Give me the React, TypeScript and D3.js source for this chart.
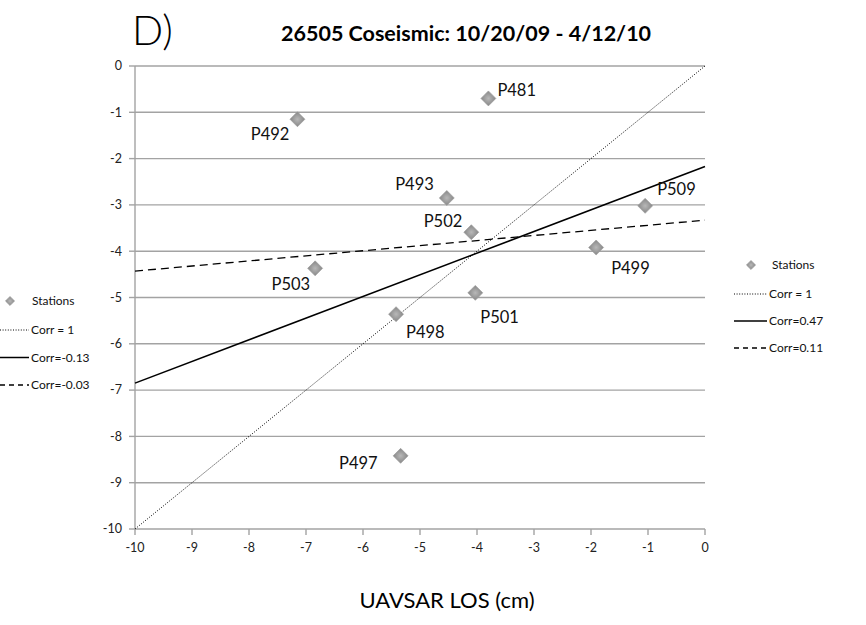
import React from "react";
import * as d3 from "d3";

// Station displacements: UAVSAR LOS (x) vs GPS (y), in cm
const stationNames = ["P481", "P492", "P493", "P509", "P502", "P503", "P498", "P501", "P499", "P497"];
const uavsarLos = [-3.8, -7.15, -4.53, -1.05, -4.1, -6.84, -5.42, -4.03, -1.91, -5.34];
const gpsLos = [-0.7, -1.15, -2.85, -3.02, -3.59, -4.37, -5.36, -4.9, -3.92, -8.42];

// Reference / fitted lines: y = slope * x + intercept
const fitNames = ["Corr = 1", "Corr=0.47", "Corr=0.11"];
const fitSlopes = [1, 0.468, 0.11];
const fitIntercepts = [0, -2.17, -3.33];
const fitDash = ["1,1.6", null, "8,5"];
const legendDash = ["1,1.6", null, "5,4"];
const fitWidth = [1, 1.5, 1.3];

// Second legend block at the far left
const leftLegendNames = ["Stations", "Corr = 1", "Corr=-0.13", "Corr=-0.03"];

const xTicks = [-10, -9, -8, -7, -6, -5, -4, -3, -2, -1, 0];
const yTicks = [0, -1, -2, -3, -4, -5, -6, -7, -8, -9, -10];

// label placement per station: [dx, dy, anchor]
const labelPlacement: Record<string, [number, number, string]> = {
  P481: [9, -8, "start"],
  P492: [-8, 15, "end"],
  P493: [-13, -14, "end"],
  P509: [12, -17, "start"],
  P502: [-9, -11, "end"],
  P503: [-5, 16, "end"],
  P498: [10, 18, "start"],
  P501: [5, 24, "start"],
  P499: [15, 21, "start"],
  P497: [-23, 7, "end"],
};

const FONT = "Lato, 'Open Sans', sans-serif";
const GRID = "#a3a3a3";

function Diamond({ cx, cy, size }: { cx: number; cy: number; size: number }) {
  const path = d3.symbol(d3.symbolSquare, size)() as string;
  return (
    <g transform={`translate(${cx},${cy}) rotate(45)`}>
      <path d={path} fill="url(#diamondFill)" stroke="#9c9c9c" strokeWidth={0.6} />
    </g>
  );
}

function LegendLine({ x1, x2, y, dash, width }: { x1: number; x2: number; y: number; dash: string | null; width: number }) {
  return (
    <line x1={x1} x2={x2} y1={y} y2={y} stroke="#000" strokeWidth={width} strokeDasharray={dash ?? undefined} />
  );
}

export default function App() {
  const x = d3.scaleLinear().domain([-10, 0]).range([135, 705]);
  const y = d3.scaleLinear().domain([-10, 0]).range([529, 66]);
  const line = d3
    .line<[number, number]>()
    .x((d) => x(d[0]))
    .y((d) => y(d[1]));

  const [x0, x1] = x.domain();

  return (
    <svg
      width={866}
      height={625}
      style={{ position: "absolute", left: 0, top: 0, background: "#fff" }}
      fontFamily={FONT}
    >
      <defs>
        <radialGradient id="diamondFill" cx="0.5" cy="0.5" r="0.6">
          <stop offset="0" stopColor="#b8b8b8" />
          <stop offset="1" stopColor="#8e8e8e" />
        </radialGradient>
      </defs>
      <rect width={866} height={625} fill="#fff" />

      {/* titles */}
      <text x={132} y={45} fontSize={41} fontWeight={300} fill="#000">D)</text>
      <text x={281} y={41} fontSize={21.5} fontWeight="bold" fill="#000">
        26505 Coseismic: 10/20/09 - 4/12/10
      </text>

      {/* gridlines */}
      {yTicks.filter((t) => t !== -10).map((t) => (
        <line key={`g${t}`} x1={x(x0)} x2={x(x1)} y1={y(t)} y2={y(t)} stroke={GRID} strokeWidth={1.4} />
      ))}

      {/* axes */}
      <line x1={x(x0)} x2={x(x0)} y1={y(0)} y2={y(-10)} stroke={GRID} strokeWidth={1.4} />
      <line x1={x(x0)} x2={x(x1)} y1={y(-10)} y2={y(-10)} stroke={GRID} strokeWidth={1.4} />
      {yTicks.map((t) => (
        <g key={`yt${t}`}>
          <line x1={x(x0) - 6} x2={x(x0)} y1={y(t)} y2={y(t)} stroke={GRID} strokeWidth={1.4} />
          <text x={x(x0) - 13} y={y(t)} dy="0.35em" fontSize={12.5} textAnchor="end" fill="#222">
            {t}
          </text>
        </g>
      ))}
      {xTicks.map((t) => (
        <g key={`xt${t}`}>
          <line x1={x(t)} x2={x(t)} y1={y(-10)} y2={y(-10) + 6} stroke={GRID} strokeWidth={1.4} />
          <text x={x(t)} y={y(-10) + 19} dy="0.35em" fontSize={12.5} textAnchor="middle" fill="#222">
            {t}
          </text>
        </g>
      ))}

      <text x={447} y={608} fontSize={22} textAnchor="middle" fill="#000">
        UAVSAR LOS (cm)
      </text>

      {/* fitted lines */}
      {fitNames.map((n, i) => (
        <path
          key={n}
          d={line([
            [x0, fitSlopes[i] * x0 + fitIntercepts[i]],
            [x1, fitSlopes[i] * x1 + fitIntercepts[i]],
          ]) as string}
          fill="none"
          stroke="#000"
          strokeWidth={fitWidth[i]}
          strokeDasharray={fitDash[i] ?? undefined}
        />
      ))}

      {/* stations */}
      {stationNames.map((n, i) => {
        const cx = x(uavsarLos[i]);
        const cy = y(gpsLos[i]);
        const [dx, dy, anchor] = labelPlacement[n];
        return (
          <g key={n}>
            <Diamond cx={cx} cy={cy} size={112} />
            <text x={cx + dx} y={cy + dy} dy="0.35em" fontSize={16.5} textAnchor={anchor as any} fill="#111">
              {n}
            </text>
          </g>
        );
      })}

      {/* right legend */}
      <g fontSize={12} fill="#111">
        <Diamond cx={751} cy={265} size={42} />
        <text x={772} y={265} dy="0.35em">Stations</text>
        {fitNames.map((n, i) => {
          const ly = 294 + i * 27;
          return (
            <g key={`rl${n}`}>
              <LegendLine x1={734} x2={767} y={ly} dash={legendDash[i]} width={fitWidth[i]} />
              <text x={769} y={ly} dy="0.35em">{n}</text>
            </g>
          );
        })}
      </g>

      {/* left legend */}
      <g fontSize={12} fill="#111">
        <Diamond cx={10} cy={301} size={42} />
        <text x={32} y={301} dy="0.35em">{leftLegendNames[0]}</text>
        {leftLegendNames.slice(1).map((n, i) => {
          const ly = 330 + i * 27.5;
          return (
            <g key={`ll${n}`}>
              <LegendLine x1={0} x2={29} y={ly} dash={legendDash[i]} width={fitWidth[i]} />
              <text x={31} y={ly} dy="0.35em">{n}</text>
            </g>
          );
        })}
      </g>
    </svg>
  );
}
